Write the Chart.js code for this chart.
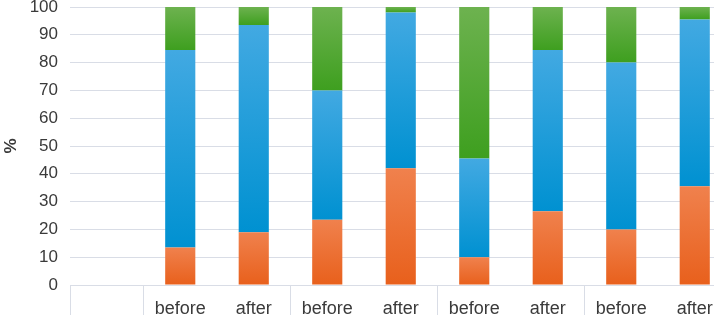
<!DOCTYPE html>
<html lang="en">
<head>
  <meta charset="UTF-8">
  <title>Before / after stacked bars</title>
  <script src="https://cdn.jsdelivr.net/npm/chart.js"></script>
  <style>
    html, body {
      margin: 0;
      padding: 0;
      background: #fff;
      overflow: hidden;
    }

    #chart-container {
      width: 740px;
      height: 315px;
      position: relative;
    }
  </style>
</head>
<body>

  <div id="chart-container">
    <canvas id="stackChart"></canvas>
  </div>

  <script>
    // Categories (first slot is left empty in the original)
    const labels = ["", "before", "after", "before", "after", "before", "after", "before", "after"];

    // Stacked shares in % (bottom -> top)
    const orangeValues = [null, 13.5, 19, 23.5, 42, 10, 26.5, 20, 35.5];
    const blueValues   = [null, 71, 74.5, 46.5, 56, 35.5, 58, 60, 60];
    const greenValues  = [null, 15.5, 6.5, 30, 2, 54.5, 15.5, 20, 4.5];

    const yTicks = [0, 10, 20, 30, 40, 50, 60, 70, 80, 90, 100];

    const seriesValues = [orangeValues, blueValues, greenValues];
    const gradientStops = [
      ["#f0814d", "#e8601c"],
      ["#42a9e2", "#0091d1"],
      ["#6db24f", "#3e9f1f"]
    ];

    const gridColor = "#d9dde6";
    const textColor = "#3a3a3a";

    // vertical gradient per segment, computed from the y scale
    function segmentFill(seriesIdx) {
      return function (ctx) {
        const chart = ctx.chart;
        const y = chart.scales.y;
        const stops = gradientStops[seriesIdx];
        if (!y || !chart.chartArea || ctx.dataIndex === undefined) return stops[1];
        let start = 0;
        for (let s = 0; s < seriesIdx; s++) start += seriesValues[s][ctx.dataIndex] || 0;
        const end = start + (seriesValues[seriesIdx][ctx.dataIndex] || 0);
        const top = y.getPixelForValue(end);
        const bottom = y.getPixelForValue(start);
        if (!isFinite(top) || !isFinite(bottom) || top === bottom) return stops[1];
        const g = chart.ctx.createLinearGradient(0, top, 0, bottom);
        g.addColorStop(0, stops[0]);
        g.addColorStop(1, stops[1]);
        return g;
      };
    }

    const ctx = document.getElementById("stackChart").getContext("2d");

    new Chart(ctx, {
      type: "bar",
      data: {
        labels: labels,
        datasets: seriesValues.map((vals, i) => ({
          label: "Series " + (i + 1),
          data: vals,
          backgroundColor: segmentFill(i),
          borderWidth: 0,
          barPercentage: 1,
          categoryPercentage: 0.41
        }))
      },
      options: {
        responsive: true,
        maintainAspectRatio: false,
        animation: false,
        layout: { padding: { top: 0, right: 8.5, bottom: 0, left: 0 } },
        scales: {
          x: {
            stacked: true,
            offset: true,
            grid: {
              offset: true,
              drawOnChartArea: false,
              drawTicks: true,
              tickLength: 30,
              color: function (c) {
                if (c.index === undefined) return gridColor;
                return (c.index === 0 || c.index % 2 === 1) ? gridColor : "rgba(0,0,0,0)";
              }
            },
            border: { display: true, color: gridColor },
            ticks: {
              color: textColor,
              font: { family: "'Liberation Sans', Arial, sans-serif", size: 18 },
              padding: -17,
              maxRotation: 0,
              autoSkip: false
            },
            afterFit: function (scale) { scale.height = 30; }
          },
          y: {
            stacked: true,
            min: 0,
            max: 100,
            afterBuildTicks: function (scale) {
              scale.ticks = yTicks.map(v => ({ value: v }));
            },
            grid: { color: gridColor, drawTicks: false },
            border: { display: false },
            ticks: {
              color: textColor,
              padding: 12,
              font: { family: "'Liberation Sans', Arial, sans-serif", size: 17 }
            },
            title: {
              display: true,
              text: "%",
              color: textColor,
              padding: { top: 1, bottom: 0 },
              font: { family: "'Liberation Sans', Arial, sans-serif", size: 17, weight: "bold" }
            },
            afterFit: function (scale) {
              scale.width = 70;
              scale.paddingTop = 7;
              scale.paddingBottom = 0;
            }
          }
        },
        plugins: {
          legend: { display: false },
          tooltip: { enabled: false }
        }
      }
    });
  </script>
</body>
</html>
